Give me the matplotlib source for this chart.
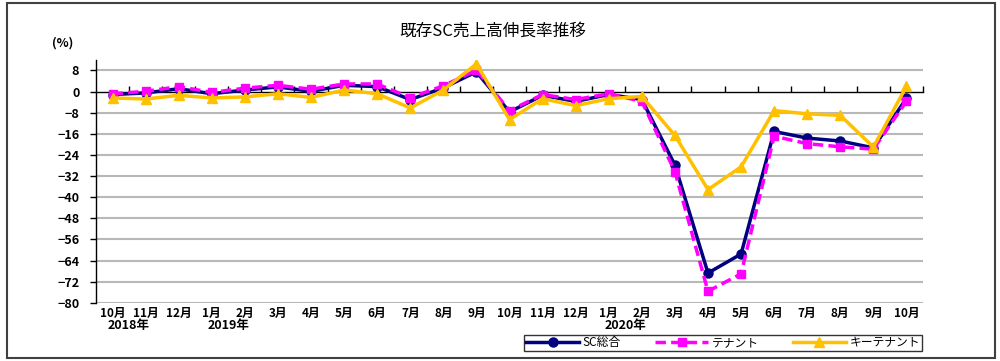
import matplotlib.pyplot as plt
from matplotlib.patches import Rectangle
from matplotlib.transforms import blended_transform_factory

plt.rcParams['font.family'] = ['Noto Sans CJK JP', 'DejaVu Sans']

months = ['10月', '11月', '12月', '1月', '2月', '3月', '4月', '5月', '6月', '7月', '8月', '9月',
          '10月', '11月', '12月', '1月', '2月', '3月', '4月', '5月', '6月', '7月', '8月', '9月', '10月']
years = ['2018年', '2019年', '2020年']
year_idx = [0, 3, 15]

sc_total = [-1.1, -0.5, 1.1, -0.8, 0.6, 1.8, 0.1, 2.4, 1.9, -3.0, 1.4, 7.5,
            -7.7, -1.4, -3.7, -1.1, -3.0, -27.8, -68.7, -61.5, -15.1, -17.6, -18.7, -21.3, -2.5]
tenant = [-0.8, 0.1, 1.9, -0.3, 1.3, 2.4, 0.9, 2.9, 2.9, -2.3, 2.2, 8.1,
          -7.2, -1.1, -3.0, -0.8, -3.7, -30.3, -75.6, -69.0, -16.9, -19.7, -20.9, -21.8, -3.6]
key_tenant = [-2.4, -2.8, -1.4, -2.4, -2.0, -0.8, -2.2, 0.6, -0.8, -6.2, 0.6, 10.5,
              -10.6, -2.7, -5.3, -2.7, -1.8, -16.6, -37.1, -28.5, -7.2, -8.4, -9.0, -21.0, 2.0]
yticks = list(range(-80, 9, 8))

fig = plt.figure(figsize=(10, 3.61), dpi=100)
fig.patches.append(Rectangle((0.007, 0.008), 0.988, 0.984, transform=fig.transFigure,
                             fill=False, edgecolor='#404040', linewidth=1.5))
ax = fig.add_axes([0.096, 0.161, 0.827, 0.673])

x = list(range(len(months)))
ax.plot(x, sc_total, color='#000080', lw=2.5, marker='o', ms=6.5, label='SC総合', zorder=3)
ax.plot(x, tenant, color='#FF00FF', lw=2.5, ls=(0, (3, 1.5)), marker='s', ms=6,
        label='テナント', zorder=4)
ax.plot(x, key_tenant, color='#FFC000', lw=2.5, marker='^', ms=6.5, label='キーテナント', zorder=5)

ax.set_xlim(-0.5, len(months) - 0.5)
ax.set_ylim(-80, 12)
ax.set_yticks(yticks)
ax.set_yticklabels([str(v).replace('-', '\u2212') for v in yticks], fontsize=9, fontweight='bold')
ax.tick_params(axis='y', direction='out', length=4, width=1, pad=8)
for v in yticks:
    if v != 0:
        ax.axhline(v, color='#b8b8b8', lw=1.5, zorder=1)

ax.spines['top'].set_visible(False)
ax.spines['right'].set_visible(False)
ax.spines['bottom'].set_position(('data', 0))
ax.spines['bottom'].set_linewidth(1)
ax.spines['left'].set_linewidth(1)
ax.set_xticks([i - 0.5 for i in range(1, len(months) + 1)])
ax.set_xticklabels([])
ax.tick_params(axis='x', direction='in', length=4, width=1)

tr = blended_transform_factory(ax.transData, ax.transAxes)
for i, m in enumerate(months):
    ax.text(i, -0.043, m, transform=tr, ha='center', va='center', fontsize=8.5, fontweight='bold')
for yr, i in zip(years, year_idx):
    ax.text(i + 0.5, -0.092, yr, transform=tr, ha='center', va='center', fontsize=9, fontweight='bold')

fig.text(0.493, 0.915, '既存SC売上高伸長率推移', ha='center', va='center', fontsize=12)
fig.text(0.063, 0.88, '(%)', ha='center', va='center', fontsize=9, fontweight='bold')

leg = fig.legend(loc='center', bbox_to_anchor=(0.723, 0.05), ncol=3, fontsize=8.5,
                 frameon=True, fancybox=False, edgecolor='black', handlelength=4.5,
                 columnspacing=2.9, borderpad=0.15, handletextpad=0.3, borderaxespad=0)
leg.get_frame().set_linewidth(1)

fig.savefig('out.png', dpi=100)
